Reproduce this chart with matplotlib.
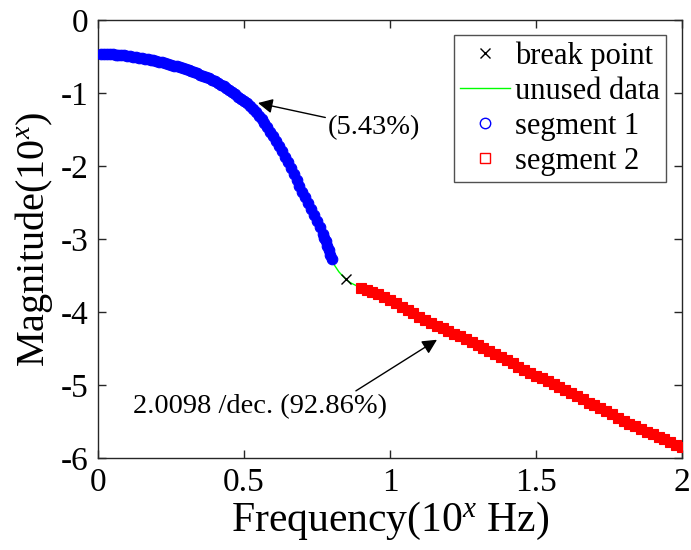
import matplotlib
matplotlib.use("Agg")
import matplotlib.pyplot as plt
from matplotlib.lines import Line2D

plt.rcParams['font.family'] = ['Liberation Serif', 'DejaVu Serif']
plt.rcParams['mathtext.fontset'] = 'custom'
plt.rcParams['mathtext.rm'] = 'Liberation Serif'
plt.rcParams['mathtext.it'] = 'Liberation Serif:italic'

# segment 1 (log10 frequency, log10 magnitude)
seg1_x = [0.01, 0.02, 0.03, 0.04, 0.05, 0.06, 0.07, 0.08, 0.09, 0.10,
          0.11, 0.12, 0.13, 0.14, 0.15, 0.16, 0.17, 0.18, 0.19, 0.20,
          0.21, 0.22, 0.23, 0.24, 0.25, 0.26, 0.27, 0.28, 0.29, 0.30,
          0.31, 0.32, 0.33, 0.34, 0.35, 0.36, 0.37, 0.38, 0.39, 0.40,
          0.41, 0.42, 0.43, 0.44, 0.45, 0.46, 0.47, 0.48, 0.49, 0.50,
          0.51, 0.52, 0.53, 0.54, 0.55, 0.56, 0.57, 0.58, 0.59, 0.60,
          0.61, 0.62, 0.63, 0.64, 0.65, 0.66, 0.67, 0.68, 0.69, 0.70,
          0.71, 0.72, 0.73, 0.74, 0.75, 0.76, 0.77, 0.775, 0.78, 0.785,
          0.79, 0.795, 0.80]
seg1_y = [-0.463, -0.465, -0.467, -0.469, -0.472, -0.475, -0.478, -0.482, -0.486, -0.490,
          -0.495, -0.501, -0.507, -0.514, -0.521, -0.528, -0.536, -0.544, -0.552, -0.561,
          -0.570, -0.580, -0.590, -0.601, -0.612, -0.624, -0.636, -0.648, -0.660, -0.673,
          -0.686, -0.700, -0.715, -0.731, -0.747, -0.764, -0.782, -0.801, -0.820, -0.841,
          -0.862, -0.885, -0.910, -0.936, -0.962, -0.990, -1.020, -1.050, -1.080, -1.110,
          -1.140, -1.180, -1.220, -1.265, -1.310, -1.360, -1.410, -1.470, -1.530, -1.595,
          -1.660, -1.730, -1.800, -1.875, -1.950, -2.030, -2.110, -2.190, -2.270, -2.350,
          -2.430, -2.510, -2.590, -2.670, -2.750, -2.840, -2.930, -2.980, -3.030, -3.090,
          -3.150, -3.215, -3.280]

# data between the segments, not used in the fit
unused_x = [0.80, 0.81, 0.825, 0.848, 0.865, 0.88, 0.90]
unused_y = [-3.28, -3.36, -3.45, -3.55, -3.60, -3.63, -3.67]

# break point
break_x = [0.848]
break_y = [-3.55]

# segment 2
seg2_x = [0.90, 0.92, 0.94, 0.96, 0.98, 1.00, 1.02, 1.04, 1.06, 1.08,
          1.10, 1.12, 1.14, 1.16, 1.18, 1.20, 1.22, 1.24, 1.26, 1.28,
          1.30, 1.32, 1.34, 1.36, 1.38, 1.40, 1.42, 1.44, 1.46, 1.48,
          1.50, 1.52, 1.54, 1.56, 1.58, 1.60, 1.62, 1.64, 1.66, 1.68,
          1.70, 1.72, 1.74, 1.76, 1.78, 1.80, 1.82, 1.84, 1.86, 1.88,
          1.90, 1.92, 1.94, 1.96, 1.98, 2.00]
seg2_y = [-3.67, -3.70, -3.72, -3.76, -3.79, -3.83, -3.88, -3.93, -3.97, -4.02,
          -4.07, -4.11, -4.15, -4.19, -4.22, -4.26, -4.30, -4.33, -4.37, -4.41,
          -4.45, -4.49, -4.54, -4.58, -4.62, -4.66, -4.70, -4.75, -4.79, -4.84,
          -4.88, -4.91, -4.95, -4.99, -5.03, -5.07, -5.11, -5.15, -5.19, -5.24,
          -5.28, -5.32, -5.36, -5.40, -5.45, -5.49, -5.53, -5.56, -5.60, -5.64,
          -5.67, -5.71, -5.74, -5.78, -5.82, -5.85]

x_ticks = [0, 0.5, 1, 1.5, 2]
x_tick_labels = ['0', '0.5', '1', '1.5', '2']
y_ticks = [0, -1, -2, -3, -4, -5, -6]
y_tick_labels = ['0', '-1', '-2', '-3', '-4', '-5', '-6']

legend_labels = ['break point', 'unused data', 'segment 1', 'segment 2']

fig = plt.figure(figsize=(6.91, 5.5), dpi=100)
ax = fig.add_axes([98 / 691, 1 - 458 / 550, 584 / 691, 438 / 550])

ax.plot(unused_x, unused_y, color=(0, 1, 0), linewidth=1.0, zorder=3)
ax.plot(seg1_x, seg1_y, linestyle='none', marker='o', markersize=7.6,
        markerfacecolor='b', markeredgecolor='b', markeredgewidth=0.8, zorder=4)
ax.plot(seg2_x, seg2_y, linestyle='none', marker='s', markersize=7.0,
        markerfacecolor='r', markeredgecolor='r', markeredgewidth=0.8, zorder=4)
ax.plot(break_x, break_y, linestyle='none', marker='x', color='k',
        markersize=7, markeredgewidth=1.0, zorder=5)

ax.set_xlim(0, 2)
ax.set_ylim(-6, 0)
ax.set_xticks(x_ticks)
ax.set_xticklabels(x_tick_labels)
ax.set_yticks(y_ticks)
ax.set_yticklabels(y_tick_labels)

for s in ax.spines.values():
    s.set_color('0.15')
    s.set_linewidth(1.0)
ax.tick_params(direction='in', length=6, width=1.0, color='0.15',
               top=True, right=True, labelsize=24, pad=7)

ax.set_xlabel(r'Frequency(10$^{\mathit{x}}$ Hz)', fontsize=30, labelpad=1)
ax.set_ylabel(r'Magnitude(10$^{\mathit{x}}$)', fontsize=29, labelpad=4)

ax.annotate('(5.43%)', xy=(0.548, -1.137), xytext=(0.788, -1.48),
            fontsize=20.5, va='center', ha='left',
            arrowprops=dict(arrowstyle='-|>', color='k', lw=1.0,
                            mutation_scale=22, shrinkA=0, shrinkB=0))
ax.annotate('2.0098 /dec. (92.86%)', xy=(1.161, -4.38), xytext=(0.12, -5.29),
            fontsize=20.5, va='center', ha='left',
            arrowprops=dict(arrowstyle='-|>', color='k', lw=1.0,
                            mutation_scale=22, shrinkA=0, shrinkB=0,
                            relpos=(0.86, 1.0)))

handles = [
    Line2D([], [], linestyle='none', marker='x', color='k', markersize=7, markeredgewidth=1.0),
    Line2D([], [], color=(0, 1, 0), linewidth=1.0),
    Line2D([], [], linestyle='none', marker='o', markersize=7.5, markerfacecolor='none',
           markeredgecolor='b', markeredgewidth=1.0),
    Line2D([], [], linestyle='none', marker='s', markersize=6.5, markerfacecolor='none',
           markeredgecolor='r', markeredgewidth=1.0),
]
leg = ax.legend(handles, legend_labels, loc='upper right',
                bbox_to_anchor=(1 - 16 / 584, 1 - 15 / 438),
                fontsize=22, frameon=True, fancybox=False, borderpad=0.2,
                labelspacing=0.2, handlelength=1.65, handletextpad=0.15,
                borderaxespad=0)
leg.get_frame().set_edgecolor('0.15')
leg.get_frame().set_linewidth(1.0)

fig.savefig('out.png', dpi=100)
